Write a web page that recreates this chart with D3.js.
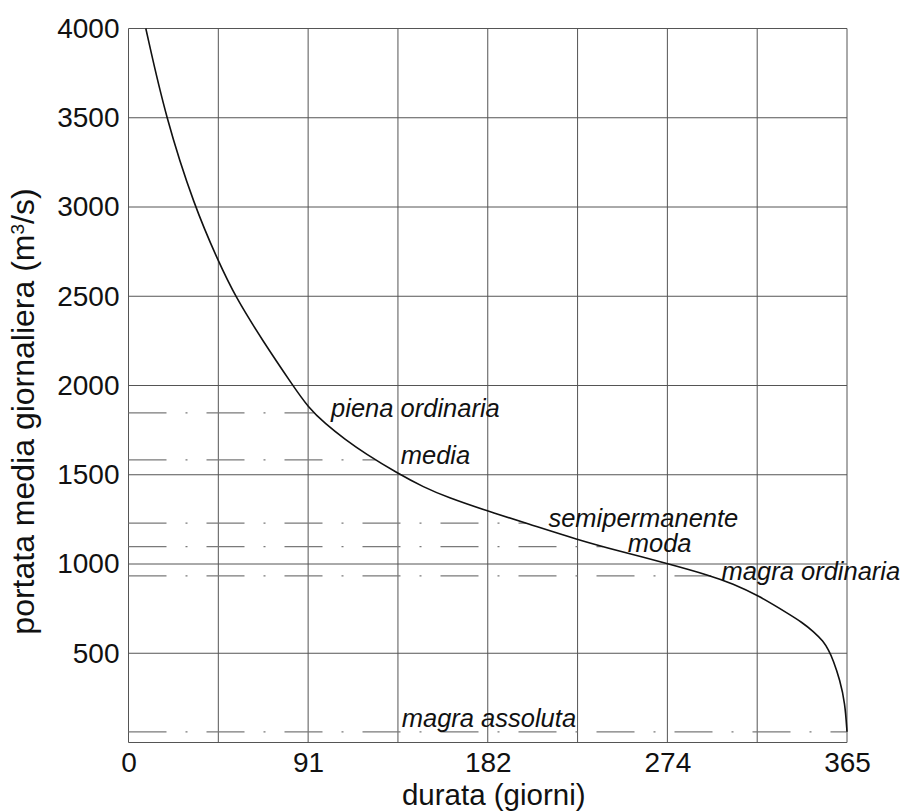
<!DOCTYPE html>
<html>
<head>
<meta charset="utf-8">
<script src="https://cdn.jsdelivr.net/npm/d3@7"></script>
<style>
  body { margin: 0; background: #fff; }
  svg text { font-family: 'Liberation Sans', Arial, sans-serif; fill: #111; }
</style>
</head>
<body>
<div id="chart"></div>
<script>
// --- data ---
const durationDays = [8.8, 18.9, 33.6, 45.6, 54.1, 68.5, 83.5, 91.25, 100, 110, 120, 137, 150, 161.7,
  182.5, 202.3, 228.1, 250, 273.75, 295.5, 307, 319.4, 336, 342, 348, 353, 355.6, 358, 361.4, 364, 365];
const dischargeValues = [4000, 3500, 3000, 2697, 2500, 2245, 2000, 1878, 1785, 1698, 1620, 1506, 1430, 1375,
  1296, 1228, 1136, 1070, 1003, 935, 890, 827, 716, 674, 622, 567, 518, 462, 350, 220, 60];

const refNames = ['piena ordinaria', 'media', 'semipermanente', 'moda', 'magra ordinaria', 'magra assoluta'];
const refValues = [1847, 1583, 1229, 1097, 933, 60];

const xGridValues = [0, 45.625, 91.25, 136.875, 182.5, 228.125, 273.75, 319.375, 365];
const xTickValues = [0, 91.25, 182.5, 273.75, 365];
const xTickLabels = ['0', '91', '182', '274', '365'];
const yGridValues = [0, 500, 1000, 1500, 2000, 2500, 3000, 3500, 4000];
const yTickValues = [500, 1000, 1500, 2000, 2500, 3000, 3500, 4000];

// label layout: x position (days) of each reference label and vertical offset from its line
const refLabelDays = [102.9, 138.3, 213.3, 253.6, 301.3, 138.8];
const refLabelDy = [4.5, 4, 3.5, 5.5, 4, -5];

const W = 908, H = 812;
const margin = {top: 28.5, right: 61, bottom: 69.5, left: 128.5};

const svg = d3.select('#chart').append('svg')
    .attr('width', W).attr('height', H);

const x = d3.scaleLinear().domain([0, 365]).range([margin.left, W - margin.right]);
const y = d3.scaleLinear().domain([0, 4000]).range([H - margin.bottom, margin.top]);

// grid
const grid = svg.append('g').attr('stroke', '#555').attr('stroke-width', 1).attr('fill', 'none');
xGridValues.forEach(v => {
    grid.append('line')
        .attr('x1', x(v)).attr('x2', x(v))
        .attr('y1', y(0)).attr('y2', y(4000));
});
yGridValues.forEach(v => {
    grid.append('line')
        .attr('x1', x(0)).attr('x2', x(365))
        .attr('y1', y(v)).attr('y2', y(v));
});

// where the curve reaches a given discharge (linear between read points)
function dayAt(q) {
    for (let i = 1; i < durationDays.length; i++) {
        const q0 = dischargeValues[i - 1], q1 = dischargeValues[i];
        if (q <= q0 && q >= q1) {
            return durationDays[i - 1] + (q0 - q) / (q0 - q1) * (durationDays[i] - durationDays[i - 1]);
        }
    }
    return 365;
}

// dash-dot reference lines
refValues.forEach((v, i) => {
    svg.append('line')
        .attr('x1', x(0)).attr('x2', x(dayAt(v)))
        .attr('y1', y(v)).attr('y2', y(v))
        .attr('stroke', '#7a7a7a').attr('stroke-width', 1.2)
        .attr('stroke-dasharray', '38,19,2,19');
});

// curve (smoothed through the read points)
const line = d3.line()
    .x((d, i) => x(durationDays[i]))
    .y(d => y(d))
    .curve(d3.curveBasis);

svg.append('path')
    .datum(dischargeValues)
    .attr('d', line)
    .attr('fill', 'none')
    .attr('stroke', '#111')
    .attr('stroke-width', 1.6);

// reference labels
refNames.forEach((name, i) => {
    svg.append('text')
        .attr('x', x(refLabelDays[i]))
        .attr('y', y(refValues[i]) + refLabelDy[i])
        .style('font-size', '25.5px')
        .style('font-style', 'italic')
        .text(name);
});

// axes labels
const xAxis = d3.axisBottom(x)
    .tickValues(xTickValues)
    .tickSize(0).tickPadding(10)
    .tickFormat((d, i) => xTickLabels[i]);
const gx = svg.append('g')
    .attr('transform', `translate(0,${y(0)})`)
    .call(xAxis);
gx.select('.domain').remove();
gx.selectAll('text').style('font-size', '28px').attr('fill', '#111');

const yAxis = d3.axisLeft(y)
    .tickValues(yTickValues)
    .tickSize(0).tickPadding(9)
    .tickFormat(d3.format('d'));
const gy = svg.append('g')
    .attr('transform', `translate(${x(0)},0)`)
    .call(yAxis);
gy.select('.domain').remove();
gy.selectAll('text').style('font-size', '28px').attr('fill', '#111');

// titles
svg.append('text')
    .attr('x', (x(0) + x(365)) / 2 + 6)
    .attr('y', 805)
    .attr('text-anchor', 'middle')
    .style('font-size', '29.5px')
    .text('durata (giorni)');

const yTitle = svg.append('text')
    .attr('transform', `translate(34,${(y(0) + y(4000)) / 2 + 26}) rotate(-90)`)
    .attr('text-anchor', 'middle')
    .style('font-size', '32px');
yTitle.append('tspan').text('portata media giornaliera (m');
yTitle.append('tspan').attr('baseline-shift', 'super').style('font-size', '19px').text('3');
yTitle.append('tspan').text('/s)');
</script>
</body>
</html>
